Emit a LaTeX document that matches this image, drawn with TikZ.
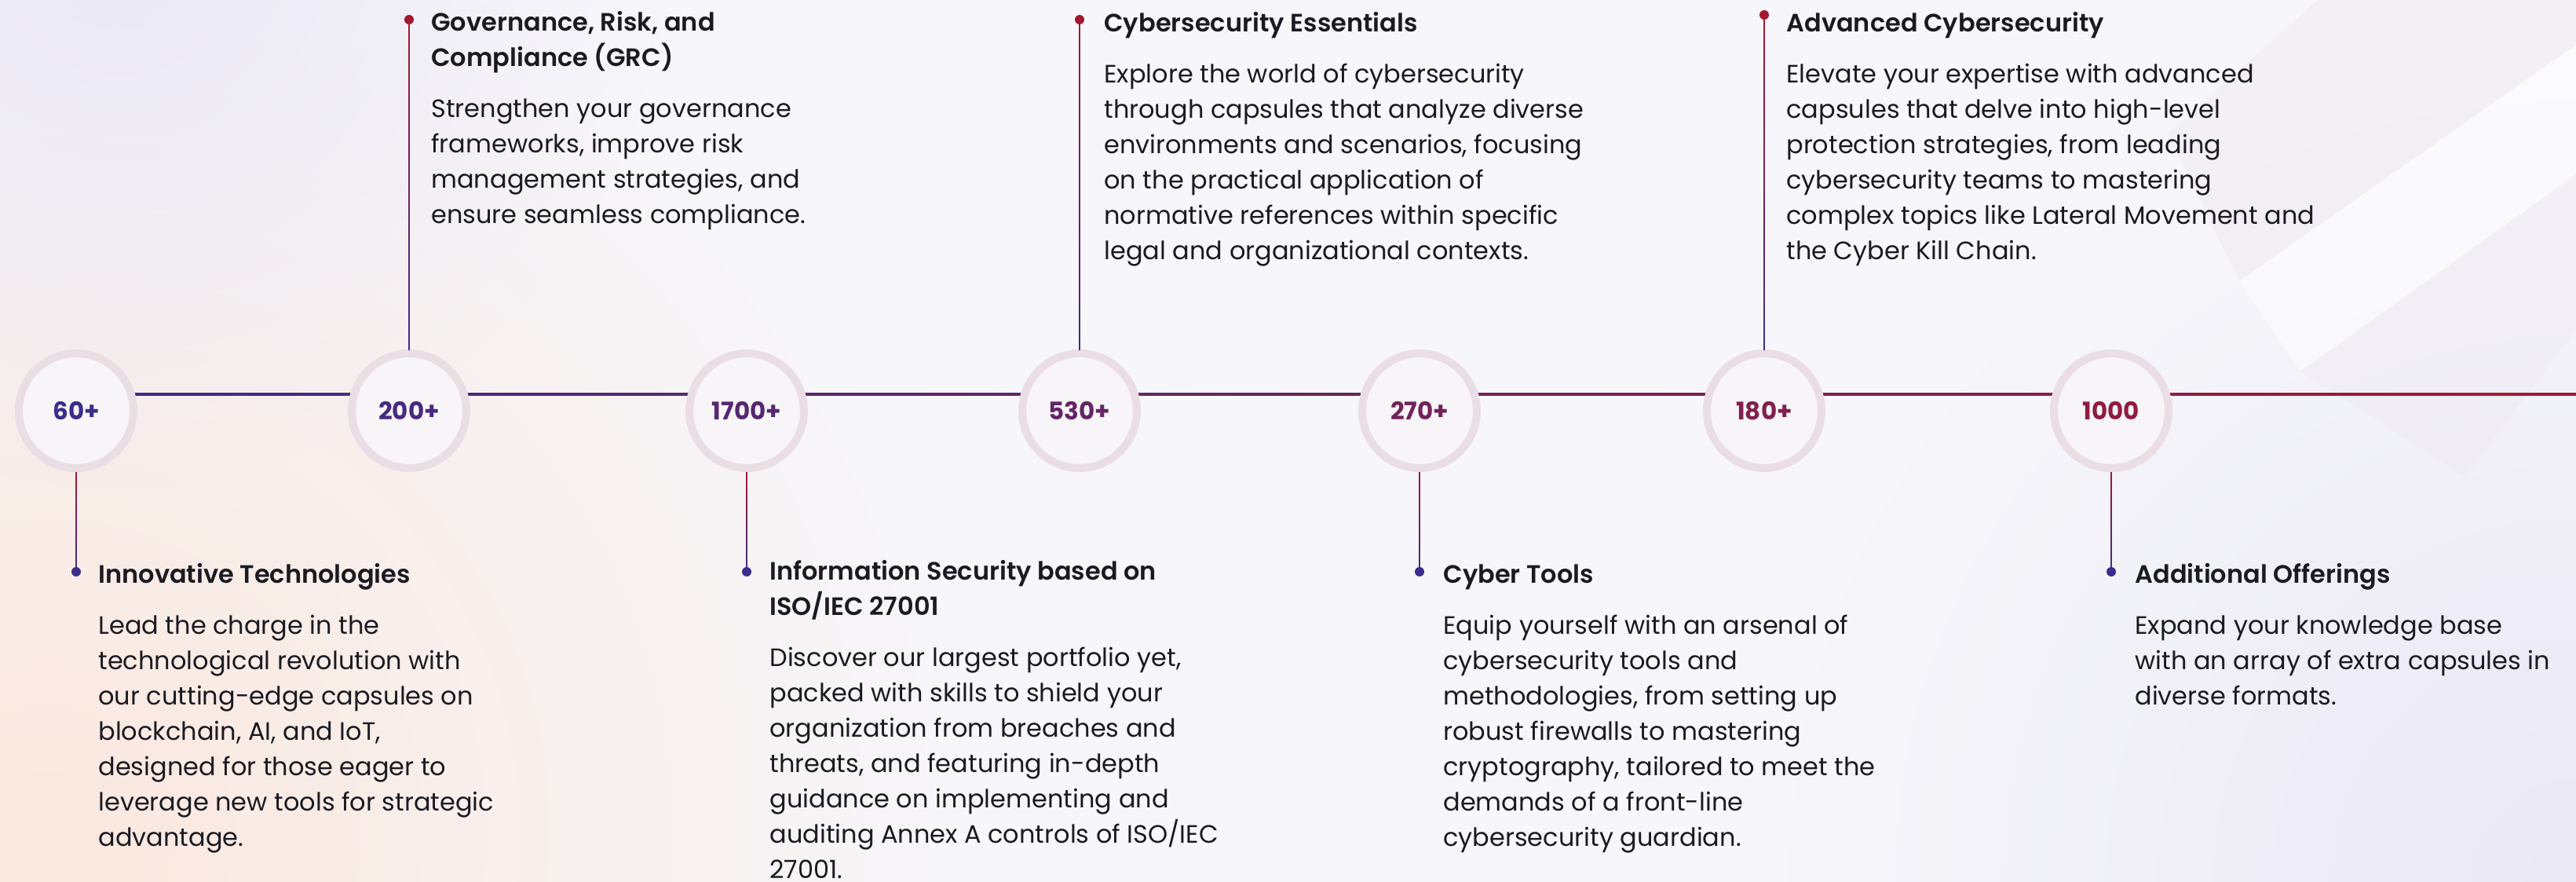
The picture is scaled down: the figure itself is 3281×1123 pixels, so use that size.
\documentclass[tikz,border=0pt]{standalone}
\usepackage{fontspec}
\setmainfont{Poppins}
\newfontfamily\headfont{Poppins SemiBold}
\usetikzlibrary{calc,fadings}
\definecolor{indigo}{HTML}{3A2D8C}
\definecolor{crimson}{HTML}{A3182F}
\definecolor{ink}{HTML}{1B1A22}
\definecolor{ring}{HTML}{E9DEE4}
\definecolor{disc}{HTML}{F7F5F8}
\definecolor{paper}{HTML}{F7F7FB}
\definecolor{peach}{HTML}{FBE8DF}
\definecolor{lilac}{HTML}{EAE8F5}
\definecolor{band}{HTML}{EDE6EE}
\tikzfading[name=glow, inner color=transparent!0, outer color=transparent!100]
\newcommand\hd{\headfont\fontsize{16}{22.5}\selectfont}

\begin{document}
\begin{tikzpicture}[x=0.5pt,y=-0.5pt,
  stat/.style={circle, draw=ring, fill=disc, line width=5pt, minimum size=73pt, inner sep=0pt, font=\fontsize{15.5}{18}\selectfont\bfseries},
  dot/.style={circle, minimum size=6pt, inner sep=0pt},
  info/.style={anchor=base west, align=left, inner sep=0pt, text=ink, font=\fontsize{16}{22.5}\selectfont},
  stem/.style={top color=crimson, bottom color=indigo},
  ]
\useasboundingbox (0,0) rectangle (3281,1123);
\begin{scope}
\clip (0,0) rectangle (3281,1123);
\fill[paper] (0,0) rectangle (3281,1123);
\fill[peach, path fading=glow] (60,1060) circle[radius=1200];
\fill[lilac, path fading=glow] (150,-80) circle[radius=700];
\fill[lilac, path fading=glow] (3281,1123) circle[radius=1000];
\fill[band, opacity=.45] (2952,0) -- (3281,0) -- (3281,57) -- (2852,358) -- (2761,170) -- cycle;
\fill[white, opacity=.55] (2852,358) -- (3281,57) -- (3281,222) -- (2930,473) -- cycle;
\fill[band, opacity=.3] (2930,473) -- (3281,222) -- (3281,420) -- (3140,607) -- cycle;
\end{scope}

\coordinate (p0) at (97,502);
\coordinate (tlend) at (3281,502);
\shade[left color=indigo, right color=crimson] ($(p0)+(0,-1.5)$) rectangle ($(tlend)+(0,1.5)$);

\node[stat, text=crimson!0!indigo] (n0) at (97,523) {60+};
\node[stat, text=crimson!13!indigo] (n1) at (521,523) {200+};
\node[stat, text=crimson!27!indigo] (n2) at (951,523) {1700+};
\node[stat, text=crimson!40!indigo] (n3) at (1375,523) {530+};
\node[stat, text=crimson!54!indigo] (n4) at (1808,523) {270+};
\node[stat, text=crimson!68!indigo] (n5) at (2247,523) {180+};
\node[stat, text=crimson!82!indigo] (n6) at (2689,523) {1000};

\node[dot, fill=indigo] (d0) at (97,728) {};
\node[dot, fill=crimson] (d1) at (521,25) {};
\node[dot, fill=indigo] (d2) at (951,728) {};
\node[dot, fill=crimson] (d3) at (1375,25) {};
\node[dot, fill=indigo] (d4) at (1808,728) {};
\node[dot, fill=crimson] (d5) at (2247,19) {};
\node[dot, fill=indigo] (d6) at (2689,728) {};

\shade[stem] ($(n0.south)+(-0.8,0)$) rectangle ($(d0.center)+(0.8,0)$);
\shade[stem] ($(d1.center)+(-0.8,0)$) rectangle ($(n1.north)+(0.8,0)$);
\shade[stem] ($(n2.south)+(-0.8,0)$) rectangle ($(d2.center)+(0.8,0)$);
\shade[stem] ($(d3.center)+(-0.8,0)$) rectangle ($(n3.north)+(0.8,0)$);
\shade[stem] ($(n4.south)+(-0.8,0)$) rectangle ($(d4.center)+(0.8,0)$);
\shade[stem] ($(d5.center)+(-0.8,0)$) rectangle ($(n5.north)+(0.8,0)$);
\shade[stem] ($(n6.south)+(-0.8,0)$) rectangle ($(d6.center)+(0.8,0)$);

% base west = baseline of the last line
\node[info] (t0) at (125,1077) {{\hd Innovative Technologies}\\[10pt]
  Lead the charge in the\\technological revolution with\\our cutting-edge capsules on\\blockchain, AI, and IoT,\\designed for those eager to\\leverage new tools for strategic\\advantage.};
\node[info] (t1) at (549,285) {{\hd Governance, Risk, and}\\{\hd Compliance (GRC)}\\[10pt]
  Strengthen your governance\\frameworks, improve risk\\management strategies, and\\ensure seamless compliance.};
\node[info] (t2) at (980,1118) {{\hd Information Security based on}\\{\hd ISO/IEC 27001}\\[10pt]
  Discover our largest portfolio yet,\\packed with skills to shield your\\organization from breaches and\\threats, and featuring in-depth\\guidance on implementing and\\auditing Annex A controls of ISO/IEC\\27001.};
\node[info] (t3) at (1406,330) {{\hd Cybersecurity Essentials}\\[10pt]
  Explore the world of cybersecurity\\through capsules that analyze diverse\\environments and scenarios, focusing\\on the practical application of\\normative references within specific\\legal and organizational contexts.};
\node[info] (t4) at (1838,1077) {{\hd Cyber Tools}\\[10pt]
  Equip yourself with an arsenal of\\cybersecurity tools and\\methodologies, from setting up\\robust firewalls to mastering\\cryptography, tailored to meet the\\demands of a front-line\\cybersecurity guardian.};
\node[info] (t5) at (2275,330) {{\hd Advanced Cybersecurity}\\[10pt]
  Elevate your expertise with advanced\\capsules that delve into high-level\\protection strategies, from leading\\cybersecurity teams to mastering\\complex topics like Lateral Movement and\\the Cyber Kill Chain.};
\node[info] (t6) at (2719,897) {{\hd Additional Offerings}\\[10pt]
  Expand your knowledge base\\with an array of extra capsules in\\diverse formats.};
\end{tikzpicture}
\end{document}
